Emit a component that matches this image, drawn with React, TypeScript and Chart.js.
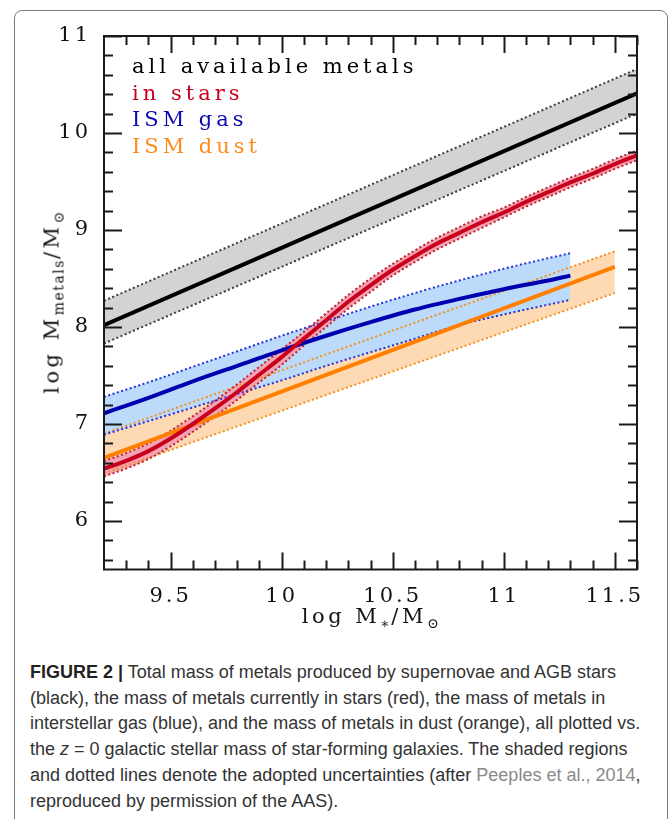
import React, { useEffect, useRef } from "react";
import { Chart, registerables } from "chart.js";

Chart.register(...registerables);

// ---------- axes ----------
const X_MIN = 9.2;
const X_MAX = 11.6;
const Y_MIN = 5.5;
const Y_MAX = 11;
const X_MAJOR = [9.5, 10, 10.5, 11, 11.5];
const X_MINOR = [9.3, 9.4, 9.6, 9.7, 9.8, 9.9, 10.1, 10.2, 10.3, 10.4, 10.6, 10.7, 10.8, 10.9, 11.1, 11.2, 11.3, 11.4, 11.6];
const Y_MAJOR = [6, 7, 8, 9, 10, 11];
const Y_MINOR = [5.6, 5.8, 6.2, 6.4, 6.6, 6.8, 7.2, 7.4, 7.6, 7.8, 8.2, 8.4, 8.6, 8.8, 9.2, 9.4, 9.6, 9.8, 10.2, 10.4, 10.6, 10.8];

// ---------- all available metals (black) ----------
const ALL_X = [9.2, 11.6];
const ALL_Y = [8.02, 10.41];
const ALL_HI = [8.27, 10.66];
const ALL_LO = [7.83, 10.2];

// ---------- metals in stars (red) ----------
const STARS_X = [9.2, 9.3, 9.4, 9.5, 9.6, 9.7, 9.8, 9.9, 10.0, 10.1, 10.2, 10.3, 10.4, 10.5, 10.6, 10.7, 10.8, 10.9, 11.0, 11.1, 11.2, 11.3, 11.4, 11.5, 11.6];
const STARS_Y = [6.54, 6.62, 6.72, 6.85, 7.0, 7.16, 7.33, 7.51, 7.69, 7.88, 8.07, 8.26, 8.43, 8.59, 8.73, 8.86, 8.97, 9.08, 9.18, 9.29, 9.39, 9.49, 9.58, 9.68, 9.77];
const STARS_HI = [6.62, 6.7, 6.8, 6.93, 7.08, 7.24, 7.41, 7.59, 7.77, 7.95, 8.14, 8.33, 8.5, 8.65, 8.79, 8.92, 9.03, 9.14, 9.23, 9.34, 9.44, 9.54, 9.63, 9.73, 9.82];
const STARS_LO = [6.46, 6.54, 6.64, 6.77, 6.92, 7.08, 7.25, 7.43, 7.61, 7.81, 8.0, 8.19, 8.36, 8.53, 8.67, 8.8, 8.91, 9.02, 9.13, 9.24, 9.34, 9.44, 9.53, 9.63, 9.72];

// ---------- ISM gas (blue) ----------
const GAS_X = [9.2, 9.4, 9.6, 9.8, 10.0, 10.2, 10.4, 10.6, 10.8, 11.0, 11.2, 11.3];
const GAS_Y = [7.11, 7.27, 7.44, 7.6, 7.76, 7.91, 8.05, 8.18, 8.29, 8.39, 8.48, 8.53];
const GAS_HI = [7.28, 7.43, 7.59, 7.75, 7.91, 8.06, 8.21, 8.35, 8.48, 8.6, 8.71, 8.76];
const GAS_LO = [6.89, 7.03, 7.17, 7.31, 7.45, 7.6, 7.74, 7.88, 8.02, 8.13, 8.23, 8.28];

// ---------- ISM dust (orange) ----------
const DUST_X = [9.2, 11.5];
const DUST_Y = [6.65, 8.62];
const DUST_HI = [6.9, 8.78];
const DUST_LO = [6.49, 8.35];

const LEGEND = [
  { text: "all available metals", color: "#000000" },
  { text: "in stars", color: "#c8001c" },
  { text: "ISM gas", color: "#0a0ab0" },
  { text: "ISM dust", color: "#ff8a1c" },
];

const pts = (xs: number[], ys: number[]) => xs.map((x, i) => ({ x, y: ys[i] }));

const SERIF = "'DejaVu Serif', serif";

const frameTicks = {
  id: "frameTicks",
  beforeDraw(chart: any) {
    chart.ctx.letterSpacing = "3px";
  },
  afterDraw(chart: any) {
    const { ctx, chartArea: a, scales } = chart;
    const xs = scales.x;
    const ys = scales.y;
    ctx.save();
    ctx.letterSpacing = "0px";
    ctx.strokeStyle = "#1a1a1a";
    ctx.lineWidth = 2;
    ctx.beginPath();
    const xt = (vals: number[], len: number) =>
      vals.forEach((v) => {
        const p = Math.round(xs.getPixelForValue(v)) + 0.5;
        ctx.moveTo(p, a.bottom);
        ctx.lineTo(p, a.bottom - len);
        ctx.moveTo(p, a.top);
        ctx.lineTo(p, a.top + len);
      });
    const yt = (vals: number[], len: number) =>
      vals.forEach((v) => {
        const p = Math.round(ys.getPixelForValue(v)) + 0.5;
        ctx.moveTo(a.left, p);
        ctx.lineTo(a.left + len, p);
        ctx.moveTo(a.right, p);
        ctx.lineTo(a.right - len, p);
      });
    xt(X_MAJOR, 17);
    xt(X_MINOR, 9);
    yt(Y_MAJOR, 18);
    yt(Y_MINOR, 9);
    ctx.stroke();
    ctx.strokeRect(a.left, a.top, a.right - a.left, a.bottom - a.top);
    ctx.restore();
  },
};

export default function App() {
  const ref = useRef<HTMLCanvasElement>(null);

  useEffect(() => {
    if (!ref.current) return;
    const main = (label: string, xs: number[], ys: number[], color: string, order: number) => ({
      label,
      data: pts(xs, ys),
      borderColor: color,
      borderWidth: 4,
      pointRadius: 0,
      cubicInterpolationMode: "monotone",
      fill: false,
      order,
    });
    const edge = (label: string, xs: number[], ys: number[], color: string, order: number, fill: any, bg: string) => ({
      label,
      data: pts(xs, ys),
      borderColor: color,
      borderWidth: 2,
      borderDash: [2, 2.5],
      pointRadius: 0,
      cubicInterpolationMode: "monotone",
      fill,
      backgroundColor: bg,
      order,
    });

    const chart = new Chart(ref.current, {
      type: "line",
      data: {
        datasets: [
          main("all available metals", ALL_X, ALL_Y, "#000000", 3),
          main("in stars", STARS_X, STARS_Y, "#c8001c", 0),
          main("ISM gas", GAS_X, GAS_Y, "#0000b0", 1),
          main("ISM dust", DUST_X, DUST_Y, "#ff8000", 2),
          edge("all hi", ALL_X, ALL_HI, "#3c3c3c", 7, "+1", "#d3d3d3"),
          edge("all lo", ALL_X, ALL_LO, "#3c3c3c", 7, false, "transparent"),
          edge("dust hi", DUST_X, DUST_HI, "#f5901e", 6, "+1", "#fdd9b4"),
          edge("dust lo", DUST_X, DUST_LO, "#f5901e", 6, false, "transparent"),
          edge("gas hi", GAS_X, GAS_HI, "#2233dd", 5, "+1", "#bcdaf9"),
          edge("gas lo", GAS_X, GAS_LO, "#2233dd", 5, false, "transparent"),
          edge("stars hi", STARS_X, STARS_HI, "#c0202e", 4, "+1", "#f3a3b3"),
          edge("stars lo", STARS_X, STARS_LO, "#c0202e", 4, false, "transparent"),
        ] as any,
      },
      options: {
        responsive: false,
        animation: false,
        devicePixelRatio: 1,
        layout: { padding: { left: 0, right: 35, top: 36, bottom: 0 } },
        plugins: {
          legend: { display: false },
          tooltip: { enabled: false },
          filler: { drawTime: "beforeDatasetsDraw" } as any,
        },
        scales: {
          x: {
            type: "linear",
            min: X_MIN,
            max: X_MAX,
            grid: { display: false, drawTicks: false },
            border: { display: false },
            afterBuildTicks: (s: any) => {
              s.ticks = X_MAJOR.map((v) => ({ value: v }));
            },
            afterFit: (s: any) => {
              s.height = 80.5;
            },
            ticks: {
              autoSkip: false,
              maxRotation: 0,
              padding: 14,
              color: "#111",
              font: { family: SERIF, size: 21 },
              callback: (v: any) => String(v),
            },
          },
          y: {
            type: "linear",
            min: Y_MIN,
            max: Y_MAX,
            grid: { display: false, drawTicks: false },
            border: { display: false },
            afterBuildTicks: (s: any) => {
              s.ticks = Y_MAJOR.map((v) => ({ value: v }));
            },
            afterFit: (s: any) => {
              s.width = 104;
            },
            ticks: {
              autoSkip: false,
              padding: 13,
              color: "#111",
              font: { family: SERIF, size: 21 },
              callback: (v: any) => String(v),
            },
          },
        },
      },
      plugins: [frameTicks],
    });
    return () => chart.destroy();
  }, []);

  const serifText: React.CSSProperties = {
    position: "absolute",
    fontFamily: SERIF,
    fontSize: 21,
    letterSpacing: "3.5px",
    color: "#111",
    whiteSpace: "nowrap",
  };
  const subStyle: React.CSSProperties = { fontSize: 14, verticalAlign: "-5px", letterSpacing: "1.5px" };

  return (
    <div
      style={{
        position: "fixed",
        left: 0,
        top: 0,
        width: 672,
        height: 819,
        overflow: "hidden",
        background: "#fff",
      }}
    >
      <div
        style={{
          position: "absolute",
          left: 14,
          top: 10,
          width: 652,
          height: 900,
          border: "1.5px solid #7a7a7a",
          borderRadius: 8,
        }}
      />
      <canvas
        ref={ref}
        width={672}
        height={650}
        style={{ position: "absolute", left: 0, top: 0, width: 672, height: 650 }}
      />
      <div style={{ position: "absolute", left: 132, top: 53, fontFamily: SERIF, fontSize: 21, lineHeight: "26.7px", letterSpacing: "4px", whiteSpace: "nowrap" }}>
        {LEGEND.map((l) => (
          <div key={l.text} style={{ color: l.color }}>
            {l.text}
          </div>
        ))}
      </div>
      <div
        style={{
          ...serifText,
          left: 53,
          top: 302,
          transform: "translate(-50%, -50%) rotate(-90deg)",
        }}
      >
        log M<span style={subStyle}>metals</span>/M<span style={subStyle}>⊙</span>
      </div>
      <div
        style={{
          ...serifText,
          left: 371,
          top: 617,
          transform: "translate(-50%, -50%)",
        }}
      >
        log M<span style={subStyle}>∗</span>/M<span style={subStyle}>⊙</span>
      </div>
      <div
        style={{
          position: "absolute",
          left: 30,
          top: 660,
          fontFamily: "'Liberation Sans', Arial, sans-serif",
          fontSize: 18,
          lineHeight: "25.7px",
          color: "#333",
          whiteSpace: "nowrap",
        }}
      >
        <b style={{ color: "#222" }}>FIGURE 2 |</b> Total mass of metals produced by supernovae and AGB stars
        <br />
        (black), the mass of metals currently in stars (red), the mass of metals in
        <br />
        interstellar gas (blue), and the mass of metals in dust (orange), all plotted vs.
        <br />
        the <i>z</i> = 0 galactic stellar mass of star-forming galaxies. The shaded regions
        <br />
        and dotted lines denote the adopted uncertainties (after{" "}
        <span style={{ color: "#8a8a8a" }}>Peeples et al., 2014</span>,
        <br />
        reproduced by permission of the AAS).
      </div>
    </div>
  );
}
